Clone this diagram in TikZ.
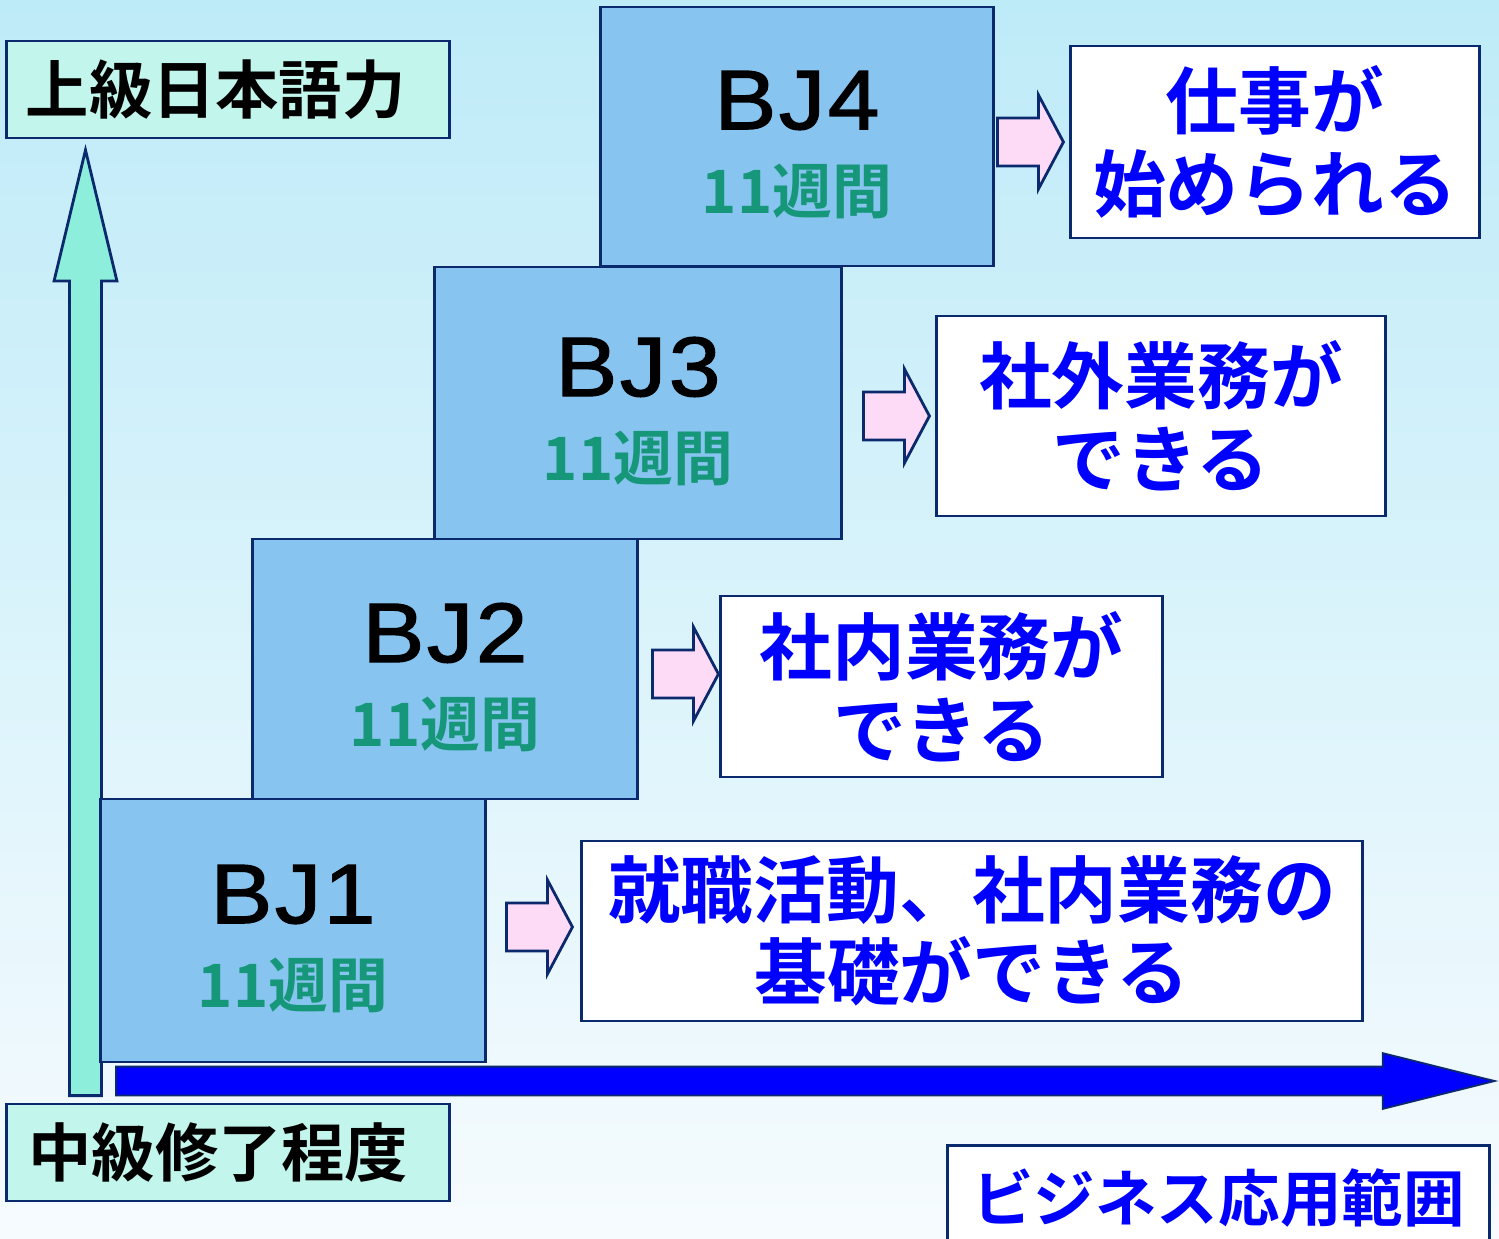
\documentclass[tikz,border=0pt]{standalone}
\usepackage{fontspec}
\usetikzlibrary{shapes.arrows,positioning}
\newfontfamily\jpfont{Noto Sans CJK JP}[BoldFont={* Bold}]
\newfontfamily\bjfont{Liberation Sans}[FakeStretch=1.1,FakeBold=1.6,LetterSpace=3]
\definecolor{bgtop}{HTML}{BEEBF8}
\definecolor{bgbot}{HTML}{F6FBFE}
\definecolor{navy}{HTML}{0B2A6E}
\definecolor{mint}{HTML}{C2F5EC}
\definecolor{upmint}{HTML}{8CEEDB}
\definecolor{bjblue}{HTML}{87C4EF}
\definecolor{weekgreen}{HTML}{16977A}
\definecolor{pinkfill}{HTML}{FDDAF5}
\definecolor{goalblue}{HTML}{0000FF}

\tikzset{
  levelbox/.style={draw=navy,line width=0.8pt,fill=mint,minimum width=4.42cm,minimum height=0.97cm,
    font=\jpfont\bfseries\fontsize{18}{20}\selectfont},
  bjbox/.style={draw=navy,line width=0.8pt,fill=bjblue},
  bjtext/.style={align=center,inner sep=0pt,font=\bjfont\fontsize{24}{24}\selectfont},
  goalbox/.style={draw=navy,line width=0.8pt,fill=white,text=goalblue,align=center,inner sep=0pt,
    font=\jpfont\bfseries\fontsize{20.7}{23.5}\selectfont},
  pinkarrow/.style={single arrow,draw=navy,line width=0.8pt,fill=pinkfill,inner xsep=0pt,inner ysep=0.225cm,
    single arrow head extend=0.23cm,single arrow tip angle=124,minimum height=0.66cm,anchor=tail}
}
\newcommand{\weeks}{{\jpfont\bfseries\color{weekgreen}\fontsize{17}{20}\selectfont 11週間}}

\begin{document}
\begin{tikzpicture}[x=0.01cm,y=-0.01cm]
\useasboundingbox (0,0) rectangle (1499,1239);
\shade[top color=bgtop,bottom color=bgbot] (0,0) rectangle (1499,1239);

% axes
\node[single arrow,draw=navy,line width=0.8pt,fill=upmint,rotate=90,anchor=tail,inner xsep=0pt,inner ysep=0.145cm,
  single arrow head extend=0.155cm,single arrow tip angle=27,minimum height=9.45cm] (uparrow) at (85.5,1097) {};
\node[single arrow,draw=navy,line width=0.5pt,fill=goalblue,anchor=tail,inner xsep=0pt,inner ysep=0.135cm,
  single arrow head extend=0.135cm,single arrow tip angle=28,minimum height=13.78cm] (rightarrow) at (115,1081) {};

\node[levelbox] (top) at (228,89.5) {上級日本語力\kern7pt};
\node[levelbox] (bottom) at (228,1152.5) {中級修了程度\kern5.5pt};
\node[goalbox,font=\jpfont\bfseries\fontsize{17.5}{20}\selectfont,minimum width=5.41cm,minimum height=1.05cm,anchor=north] (range) at (1218.5,1144) {ビジネス応用範囲};

% steps
\node[bjbox,minimum width=3.84cm,minimum height=2.63cm] (bj1) at (293,930.5) {};
\node[bjbox,minimum width=3.84cm,minimum height=2.60cm] (bj2) at (445,669) {};
\node[bjbox,minimum width=4.06cm,minimum height=2.72cm] (bj3) at (638,403) {};
\node[bjbox,minimum width=3.92cm,minimum height=2.59cm] (bj4) at (797,136.5) {};
\foreach \i in {1,...,4}
  \node[bjtext] (bj\i text) at ([yshift=-2.4pt]bj\i.center) {BJ\i\\\weeks};

% goals
\node[goalbox,minimum width=7.80cm,minimum height=1.80cm] (goal1) at (972,931) {就職活動、社内業務の\\基礎ができる};
\node[goalbox,minimum width=4.41cm,minimum height=1.81cm] (goal2) at (941.5,686.5) {社内業務が\\できる};
\node[goalbox,minimum width=4.48cm,minimum height=2.00cm] (goal3) at (1161,416) {社外業務が\\できる};
\node[goalbox,minimum width=4.08cm,minimum height=1.92cm] (goal4) at (1275,142) {仕事が\\始められる};

\node[pinkarrow] (step1) at (505,927) {};
\node[pinkarrow] (step2) at (651,674) {};
\node[pinkarrow] (step3) at (862,416) {};
\node[pinkarrow] (step4) at (996,142) {};
\end{tikzpicture}
\end{document}
